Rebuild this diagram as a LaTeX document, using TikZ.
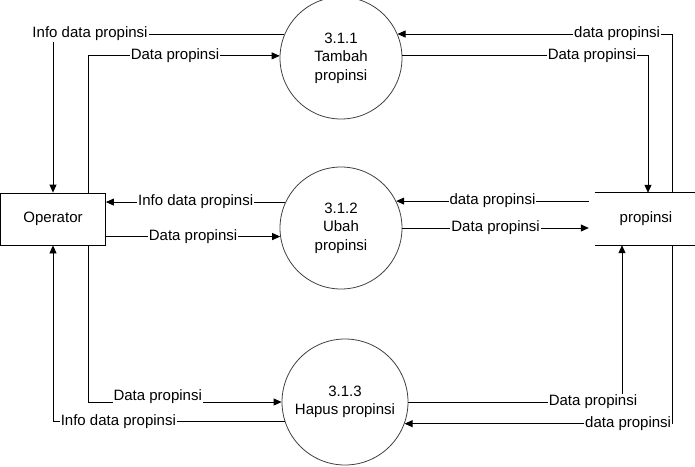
\documentclass[tikz,border=0pt]{standalone}
\usepackage{fontspec}
\setmainfont{Liberation Sans}
\usetikzlibrary{arrows.meta}
\tikzset{
  base/.style={font=\fontsize{15}{18.5}\selectfont},
  proc/.style={base, draw, circle, minimum size=122pt, inner sep=0pt, align=center, line width=0.8pt, draw=black!75},
  ent/.style={base, draw, rectangle, minimum width=105pt, minimum height=52pt, inner sep=0pt, line width=0.8pt},
  store/.style={base, rectangle, minimum width=106pt, minimum height=52pt, inner sep=0pt},
  flow/.style={line width=0.8pt, -{Triangle[length=8pt,width=7pt]}},
  lbl/.style={base, fill=white, inner sep=1pt},
}
\begin{document}
\begin{tikzpicture}[x=1pt,y=-1pt]
\useasboundingbox (0,0) rectangle (695,466);
\node[ent] (op) at (53,219) {Operator};
\node[proc] (p1) at (341,58) {3.1.1\\Tambah\\propinsi};
\node[proc] (p2) at (341,228) {3.1.2\\Ubah\\propinsi};
\node[proc, minimum size=126pt] (p3) at (345,402) {3.1.3\\Hapus propinsi};
\node[store] (st) at (642,219) {\hspace*{8pt}propinsi};
\draw[line width=0.8pt] ([xshift=6pt]st.north west) -- (st.north east);
\draw[line width=0.8pt] ([xshift=6pt]st.south west) -- (st.south east);

% 3.1.1
\draw[flow] (p1.157) -| node[lbl, pos=0.42] {Info data propinsi} (op.north);
\draw[flow] ([xshift=35pt]op.north) |- node[lbl, pos=0.727] {Data propinsi} (p1.178);
\draw[flow] ([xshift=30pt]st.north) |- node[lbl, pos=0.60] {data propinsi} (p1.23);
\draw[flow] (p1.2) -| node[lbl, pos=0.386] {Data propinsi} ([xshift=6pt]st.north);

% 3.1.2
\draw[flow] (p2.155) -- node[lbl] {Info data propinsi} (op.east |- p2.155);
\draw[flow] (op.east |- p2.188) -- node[lbl] {Data propinsi} (p2.188);
\draw[flow] (st.west |- p2.26) -- node[lbl] {data propinsi} (p2.26);
\draw[flow] (p2.east) -- node[lbl] {Data propinsi} (st.west |- p2.east);

% 3.1.3
\draw[flow] ([xshift=35pt]op.south) |- node[lbl, pos=0.68, yshift=5pt] {Data propinsi} (p3.west);
\draw[flow] (p3.198) -| node[lbl, pos=0.359] {Info data propinsi} (op.south);
\draw[flow] (p3.east) -| node[lbl, pos=0.432] {Data propinsi} ([xshift=-20pt]st.south);
\draw[flow] ([xshift=30pt]st.south) |- node[lbl, pos=0.582] {data propinsi} (p3.340);
\end{tikzpicture}
\end{document}
